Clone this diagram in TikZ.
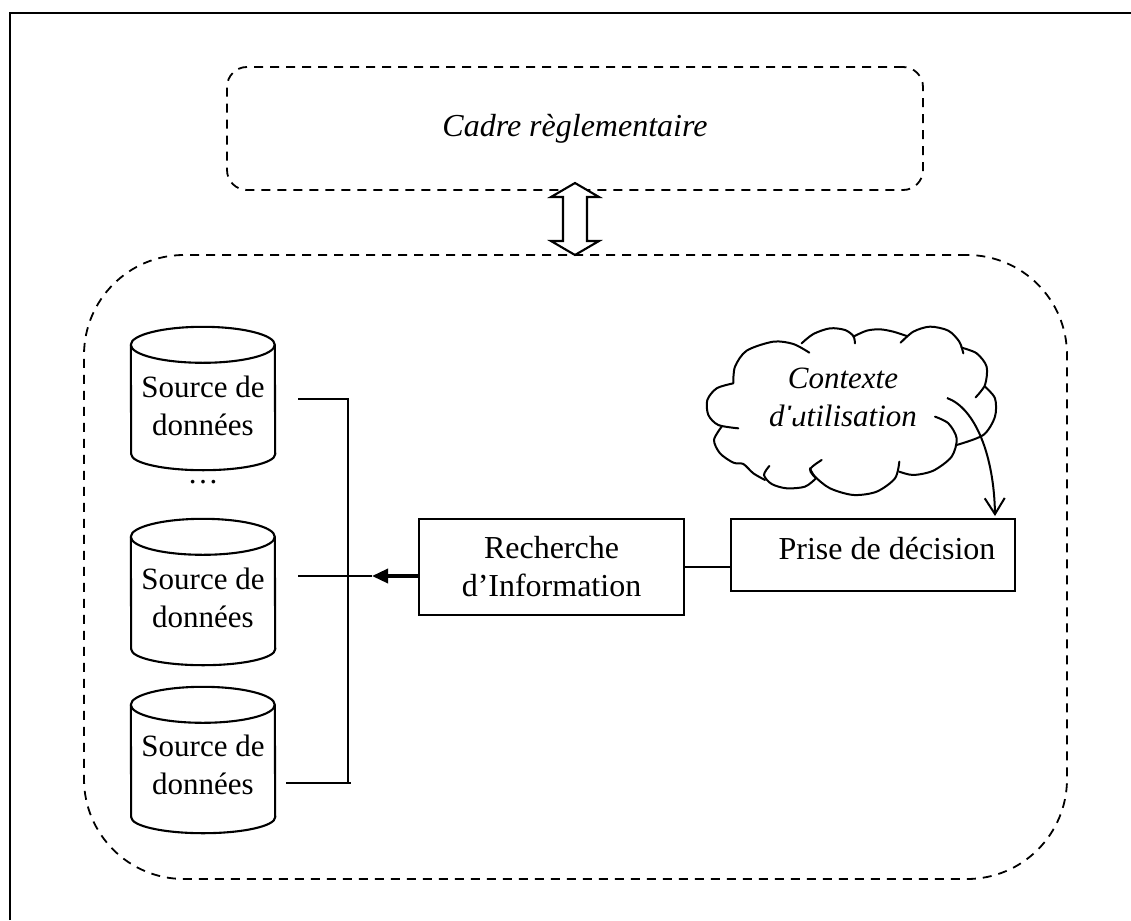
\documentclass[tikz,border=0pt]{standalone}
\usepackage{fontspec}
\setmainfont{Liberation Serif}
\usetikzlibrary{arrows.meta,calc}
\tikzset{
  line/.style={line width=2.1pt,black},
  dashbox/.style={draw,line width=1.8pt,dash pattern=on 9pt off 7pt,rectangle,inner sep=0pt},
  sourcebox/.style={rectangle,minimum width=144pt,inner sep=0pt},
  sourcetxt/.style={inner sep=0pt,align=center,font=\fontsize{31}{38}\selectfont},
  procbox/.style={draw,line width=2.1pt,rectangle,inner sep=0pt,align=center,font=\fontsize{32}{38}\selectfont},
  cloudarc/.style={line width=2pt,line cap=round},
  label/.style={font=\fontsize{31}{38}\selectfont\itshape,align=center,inner sep=0pt}
}
\newcommand{\sourcecylinder}[1]{%
  \draw[line,line join=round] ($(#1.north west)+(0,18)$) arc[start angle=180,end angle=0,x radius=72pt,y radius=18pt]
     -- ($(#1.south east)+(0,-16)$) arc[start angle=0,end angle=-180,x radius=72pt,y radius=16pt] -- cycle;
  \draw[line] ($(#1.north west)+(0,18)$) arc[start angle=180,end angle=360,x radius=72pt,y radius=18pt];
}
\begin{document}
\begin{tikzpicture}[x=1pt,y=-1pt]
\useasboundingbox (0,0) rectangle (1131,920);
% outer frame
\coordinate (ftl) at (10,13);
\draw[line] (10,920) -- (ftl) -- (1131,13);
% dashed groups
\node[dashbox,rounded corners=20pt,minimum width=696pt,minimum height=123pt] (cadre) at (575,128.5) {};
\node[font=\fontsize{32}{38}\selectfont\itshape,inner sep=0pt,anchor=base] (cadretxt) at (575,137) {Cadre règlementaire};
\node[dashbox,rounded corners=100pt,minimum width=983pt,minimum height=624pt] (groupe) at (575.5,567) {};
% double arrow
\draw[line,fill=white,line join=miter] (575,183) -- (599,197) -- (587,197) -- (587,241) -- (599,241) -- (575,255) -- (551,241) -- (563,241) -- (563,197) -- (551,197) -- cycle;
% sources
\node[sourcebox,minimum height=143pt] (s1) at (203,398.5) {};
\node[sourcebox,minimum height=146pt] (s2) at (203,592) {};
\node[sourcebox,minimum height=146pt] (s3) at (203,760) {};
\sourcecylinder{s1}
\sourcecylinder{s2}
\sourcecylinder{s3}
\node[sourcetxt] (s1t) at (203,405.5) {Source de\\données};
\node[sourcetxt] (s2t) at (203,597.5) {Source de\\données};
\node[sourcetxt] (s3t) at (203,764.5) {Source de\\données};
\node[font=\fontsize{31}{38}\selectfont,inner sep=0pt] (dots) at (203,482) {…};
% boxes
\node[procbox,minimum width=265pt,minimum height=96pt] (R) at (551.5,567) {Recherche\\d’Information};
\node[procbox,minimum width=284pt,minimum height=72pt] (P) at (873,555) {};
\node[font=\fontsize{32}{38}\selectfont,inner sep=0pt,anchor=base] (Pt) at (887,559) {Prise de décision};
% bus
\coordinate (c1) at (298,399);
\coordinate (b1) at (348,399);
\coordinate (c2) at (298,576);
\coordinate (c3) at (286,783);
\coordinate (b3) at (351,783);
\coordinate (b3v) at (348,783);
\coordinate (tip) at (372,576);
\draw[line] (c1) -- (b1) -- (b3v);
\draw[line] (c3) -- (b3);
\draw[line] (c2) -- (tip);
\draw[line width=3.4pt,-{Triangle[length=16pt,width=14pt]}] (R.west |- tip) -- (tip);
\draw[line] (R.east) -- (P.west |- R.east);
% cloud
\begin{scope}[shift={(690,310)},x=0.3333pt,y=-0.3333pt]
\draw[cloudarc] plot[smooth] coordinates {(130,218) (135,170) (170,122) (250,95) (310,102) (358,128)};
\draw[cloudarc] plot[smooth] coordinates {(335,100) (370,72) (420,55) (465,60) (490,78) (495,100)};
\draw[cloudarc] plot[smooth] coordinates {(490,80) (530,62) (570,58) (610,65) (650,78)};
\draw[cloudarc] plot[smooth] coordinates {(632,98) (670,65) (720,50) (775,62) (808,95) (820,130)};
\draw[cloudarc] plot[smooth] coordinates {(815,113) (860,130) (890,170) (885,225) (857,262)};
\draw[cloudarc] plot[smooth] coordinates {(885,230) (915,265) (915,320) (880,375) (800,405)};
\draw[cloudarc] plot[smooth] coordinates {(735,320) (775,340) (800,385) (785,440) (730,482) (670,495) (628,485)};
\draw[cloudarc] plot[smooth] coordinates {(628,455) (615,505) (560,545) (490,555) (420,535) (375,500) (360,475)};
\draw[cloudarc] plot[smooth] coordinates {(395,450) (360,478) (378,505)};
\draw[cloudarc] plot[smooth] coordinates {(378,505) (345,530) (290,535) (245,522) (222,495) (238,468)};
\draw[cloudarc] plot[smooth] coordinates {(225,510) (190,490) (160,462) (130,458) (90,430) (72,390) (95,350)};
\draw[cloudarc] plot[smooth] coordinates {(145,355) (85,345) (55,315) (52,270) (80,235) (130,220)};
\end{scope}
\node[label] (ctx) at (843,397) {Contexte\\d\textquotesingle utilisation};
% clipped top of the u
\fill[white] (786,410) rectangle (802,418);
% curved connector
\coordinate (cstart) at (947,398);
\coordinate (ctip) at (995,516);
\draw[line width=2pt,-{Straight Barb[length=16pt,width=20pt,line width=2pt]}] (cstart) .. controls (975,408) and (994,455) .. (ctip);
\end{tikzpicture}
\end{document}
